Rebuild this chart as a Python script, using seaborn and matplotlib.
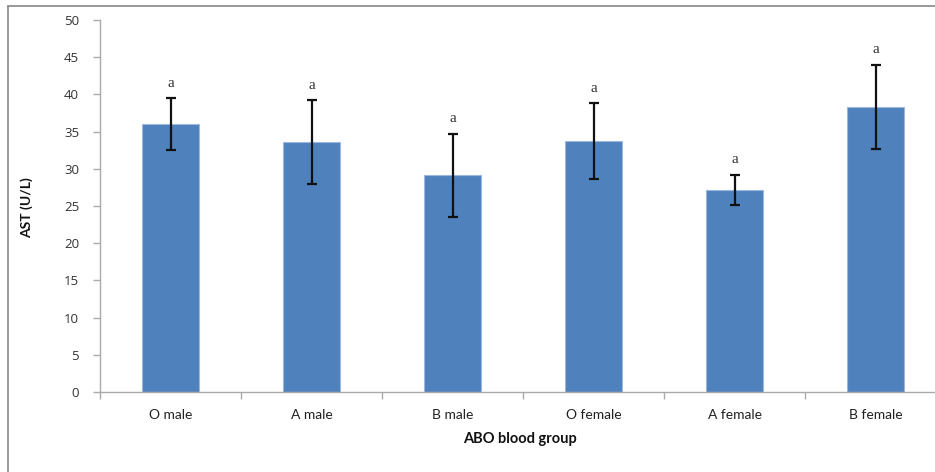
import matplotlib
matplotlib.use("Agg")
import matplotlib.pyplot as plt
import seaborn as sns
import pandas as pd
from matplotlib.lines import Line2D

categories = ["O male", "A male", "B male", "O female", "A female", "B female"]
means = [36.0, 33.6, 29.1, 33.7, 27.2, 38.3]
errors = [3.45, 5.65, 5.6, 5.1, 2.0, 5.7]
letters = ["a", "a", "a", "a", "a", "a"]
y_ticks = [0, 5, 10, 15, 20, 25, 30, 35, 40, 45, 50]

sns.set_style("white")
plt.rcParams["font.family"] = ["Lato", "DejaVu Sans"]

W, H = 935, 472
fig = plt.figure(figsize=(W / 100, H / 100), dpi=100)
ax = fig.add_axes([100 / W, (H - 392) / H, 846 / W, 372 / H])

df = pd.DataFrame({"group": categories, "AST": means})
sns.barplot(data=df, x="group", y="AST", color="#4F81BD", saturation=1,
            width=0.4, edgecolor="#9DB8DC", linewidth=0.8, ax=ax)
xs = list(range(len(categories)))
ax.errorbar(xs, means, yerr=errors, fmt="none", ecolor="#111111",
            elinewidth=1.6, capsize=3.5, capthick=1.6, zorder=5)
for x, m, e, t in zip(xs, means, errors, letters):
    ax.annotate(t, (x, m + e), xytext=(0, 6), textcoords="offset points",
                ha="center", va="bottom", fontsize=11, color="#333333",
                family=["Liberation Serif"])

ax.set_xlim(-0.5, len(categories) - 0.5)
ax.set_ylim(0, 50)
ax.set_yticks(y_ticks)
ax.set_yticklabels([str(v) for v in y_ticks], fontsize=9.5, color="#333333",
                   family=["Open Sans"])
ax.set_xticks([i - 0.5 for i in range(len(categories) + 1)])
ax.set_xticklabels([])
ax.set_xticks(xs, minor=True)
ax.set_xticklabels(categories, minor=True, fontsize=10, color="#222222")
ax.tick_params(axis="x", which="major", direction="out", length=5,
               color="#AAAAAA", width=1, bottom=True)
ax.tick_params(axis="x", which="minor", length=0, pad=12)
ax.tick_params(axis="y", direction="out", length=5, color="#AAAAAA",
               width=1, left=True, pad=10)

for s in ["top", "right"]:
    ax.spines[s].set_visible(False)
for s in ["left", "bottom"]:
    ax.spines[s].set_color("#AAAAAA")
    ax.spines[s].set_linewidth(1)

ax.set_xlabel("ABO blood group", fontsize=10.5, fontweight="bold", color="#111111")
ax.xaxis.set_label_coords((520 - 100) / 846, (392 - 432) / 372)
ax.set_ylabel("AST (U/L)", fontsize=10, fontweight="bold", color="#111111")
ax.yaxis.set_label_coords((33 - 100) / 846, 0.495)

fig.add_artist(Line2D([8 / W, 8 / W], [0, 1 - 6 / H], color="#888888", lw=1.2,
                      transform=fig.transFigure))
fig.add_artist(Line2D([8 / W, 1], [1 - 6 / H, 1 - 6 / H], color="#888888", lw=1.2,
                      transform=fig.transFigure))

fig.savefig("out.png", dpi=100)
